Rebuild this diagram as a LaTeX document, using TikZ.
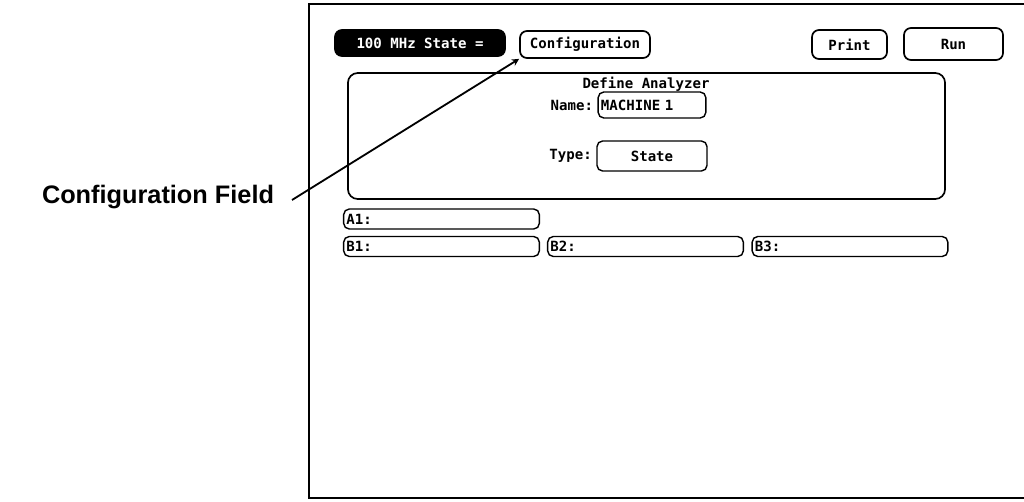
\documentclass[tikz,border=0pt]{standalone}
\usepackage{fontspec}
\setmainfont{Liberation Sans}
\newfontfamily\screenfont{DejaVu Sans Mono}
\usepackage{tikz}
\usetikzlibrary{arrows, positioning}
\tikzstyle{softkey} = [draw, rectangle, rounded corners=5pt, line width=1.2pt, inner sep=1pt, align=center, font=\screenfont\bfseries\fontsize{10}{12}\selectfont]
\tikzstyle{darkkey} = [softkey, fill=black, text=white]
\tikzstyle{field} = [softkey, rounded corners=4pt, line width=1pt, minimum height=0.5cm, text width=4.75cm, align=left, inner xsep=2pt]
\tikzstyle{label} = [font=\screenfont\bfseries\fontsize{10}{12}\selectfont, inner sep=1pt]
\tikzstyle{arrow} = [line width=1.3pt,->,>=stealth]

\begin{document}
\begin{tikzpicture}[x=0.025cm, y=-0.025cm]
    \useasboundingbox (0,0) rectangle (1024,501);
    % screen frame
    \draw[line width=1.1pt] (1040,4) -- (309,4) -- (309,498) -- (1040,498);
    % top row of keys
    \node (state) [darkkey, minimum width=4.25cm, minimum height=0.65cm] at (420,43) {100 MHz State =};
    \node (config) [softkey, minimum width=3.25cm, minimum height=0.675cm] at (585,44.5) {Configuration};
    \node (print) [softkey, minimum width=1.875cm, minimum height=0.725cm] at (849.5,44.5) {Print};
    \node (run) [softkey, minimum width=2.475cm, minimum height=0.8cm] at (953.5,44) {Run};
    % define analyzer box
    \node (define) [draw, rounded corners=7pt, line width=1.2pt, minimum width=14.925cm, minimum height=3.15cm] at (646.5,136) {};
    \node (title) [label, anchor=north] at (646,75) {Define Analyzer};
    \node (name) [field, text width=2.55cm, minimum height=0.65cm] at (652,105) {MACHINE 1};
    \node (namelbl) [label, left=2pt of name] {Name:};
    \node (type) [softkey, rounded corners=4pt, line width=1pt, minimum width=2.75cm, minimum height=0.75cm] at (652,156) {State};
    \node (typelbl) [label, left=2pt of type] {Type:};
    % pod fields
    \node (a1) [field] at (441.5,219) {A1:};
    \node (b1) [field] at (441.5,246.5) {B1:};
    \node (b2) [field] at (645.5,246.5) {B2:};
    \node (b3) [field] at (850,246.5) {B3:};
    % callout
    \node (callout) [font=\bfseries\fontsize{18}{20}\selectfont] at (158,197) {Configuration Field};
    \coordinate (tail) at (292,200);
    \draw [arrow] (tail) -- (config.south west);
\end{tikzpicture}
\end{document}
